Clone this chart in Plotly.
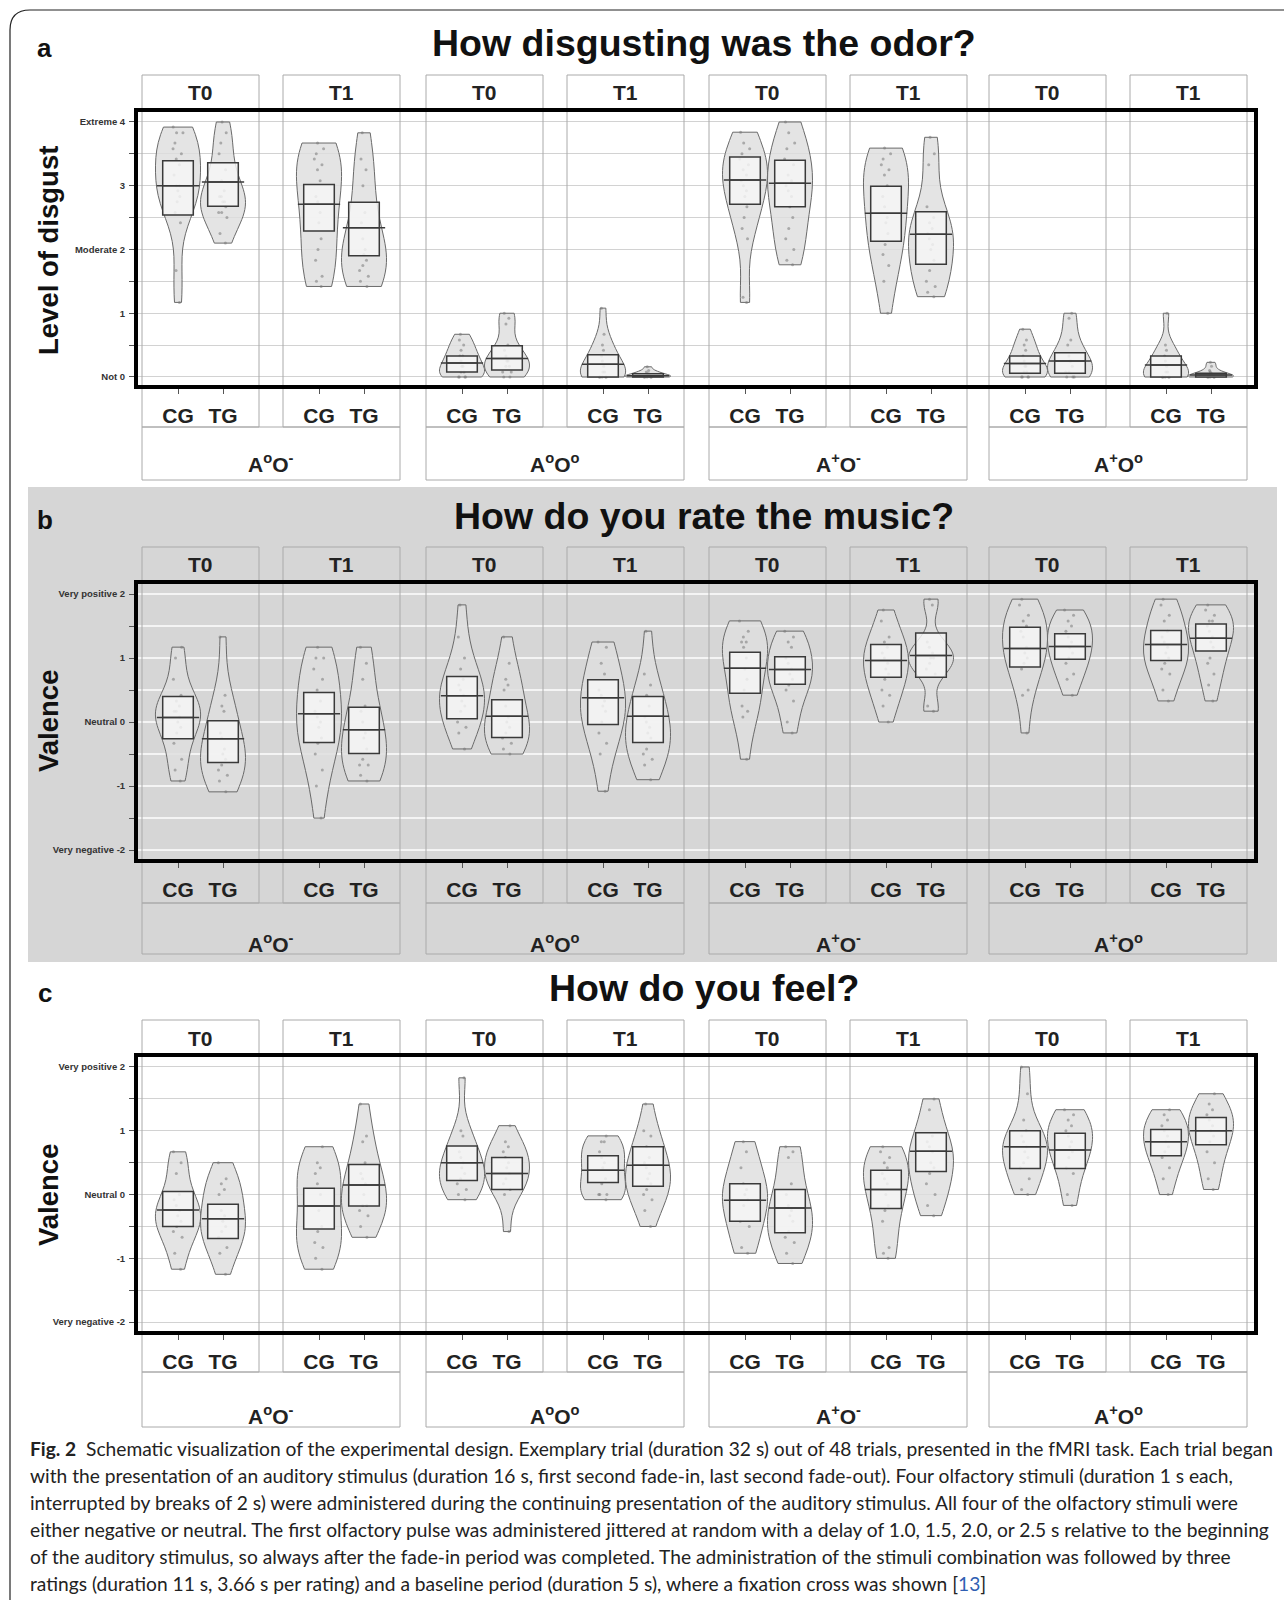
import plotly.graph_objects as go

# ---------------- data ----------------
conditions = ["A<sup>o</sup>O<sup>-</sup>", "A<sup>o</sup>O<sup>o</sup>",
              "A<sup>+</sup>O<sup>-</sup>", "A<sup>+</sup>O<sup>o</sup>"]
times = ["T0", "T1"]
groups = ["CG", "TG"]

titles = ["How disgusting was the odor?", "How do you rate the music?", "How do you feel?"]
panel_letters = ["a", "b", "c"]
y_titles = ["Level of disgust", "Valence", "Valence"]
disgust_tickvals = [0, 1, 2, 3, 4]
disgust_ticktext = ["Not 0", "1", "Moderate 2", "3", "Extreme 4"]
disgust_minor = [0.5, 1.5, 2.5, 3.5]
valence_tickvals = [-2, -1, 0, 1, 2]
valence_ticktext = ["Very negative -2", "-1", "Neutral 0", "1", "Very positive 2"]
valence_minor = [-1.5, -0.5, 0.5, 1.5]

# facet order: (A°O-,T0) (A°O-,T1) (A°O°,T0) (A°O°,T1) (A+O-,T0) (A+O-,T1) (A+O°,T0) (A+O°,T1)
# ---- panel a: disgust ----
a_pts_CG = [
    [3.92, 3.83, 3.83, 3.67, 3.58, 3.5, 3.42, 3.33, 3.17, 3.0, 3.0, 2.92, 2.83, 2.75, 2.58, 2.42, 1.67, 1.17],
    [3.67, 3.58, 3.5, 3.42, 3.33, 3.25, 3.08, 2.83, 2.75, 2.58, 2.42, 2.17, 2.0, 1.83, 1.58, 1.5, 1.42],
    [0.0, 0.0, 0.0, 0.0, 0.08, 0.08, 0.17, 0.17, 0.25, 0.33, 0.33, 0.42, 0.5, 0.58, 0.67],
    [0.0, 0.0, 0.0, 0.0, 0.0, 0.08, 0.08, 0.17, 0.25, 0.33, 0.42, 0.5, 0.67, 1.08],
    [3.84, 3.67, 3.58, 3.5, 3.42, 3.33, 3.25, 3.17, 3.08, 3.0, 2.92, 2.83, 2.67, 2.5, 2.33, 2.17, 1.25, 1.17],
    [3.59, 3.5, 3.42, 3.33, 3.25, 3.17, 3.0, 2.83, 2.67, 2.5, 2.42, 2.25, 2.08, 1.92, 1.75, 1.5, 1.0],
    [0.0, 0.0, 0.0, 0.0, 0.08, 0.08, 0.17, 0.17, 0.25, 0.33, 0.42, 0.5, 0.58, 0.75],
    [0.0, 0.0, 0.0, 0.0, 0.0, 0.08, 0.08, 0.17, 0.25, 0.33, 0.42, 0.5, 1.0],
]
a_pts_TG = [
    [4.0, 3.83, 3.67, 3.5, 3.25, 3.08, 2.92, 2.83, 2.83, 2.75, 2.75, 2.67, 2.58, 2.58, 2.5, 2.25, 2.1],
    [3.83, 3.42, 3.25, 3.0, 2.58, 2.42, 2.17, 2.0, 1.92, 1.83, 1.75, 1.67, 1.58, 1.5, 1.42],
    [0.0, 0.0, 0.08, 0.08, 0.17, 0.17, 0.25, 0.25, 0.33, 0.42, 0.5, 0.83, 0.92, 1.0],
    [0.0, 0.0, 0.0, 0.0, 0.0, 0.02, 0.03, 0.05, 0.05, 0.08, 0.1, 0.16],
    [4.0, 3.83, 3.67, 3.58, 3.42, 3.33, 3.17, 3.08, 3.0, 2.92, 2.83, 2.67, 2.5, 2.33, 2.17, 2.0, 1.83, 1.76],
    [3.76, 3.5, 3.33, 2.67, 2.5, 2.42, 2.33, 2.25, 2.17, 2.08, 2.0, 1.83, 1.67, 1.5, 1.42, 1.33, 1.26],
    [0.0, 0.0, 0.0, 0.08, 0.08, 0.17, 0.25, 0.25, 0.33, 0.5, 0.58, 0.92, 1.0],
    [0.0, 0.0, 0.0, 0.0, 0.0, 0.02, 0.03, 0.05, 0.08, 0.1, 0.17, 0.23],
]
a_q1_CG = [2.54, 2.29, 0.08, 0.0, 2.71, 2.13, 0.06, 0.0]
a_med_CG = [3.0, 2.71, 0.22, 0.2, 3.09, 2.57, 0.21, 0.19]
a_q3_CG = [3.39, 3.02, 0.33, 0.35, 3.45, 2.99, 0.33, 0.33]
a_q1_TG = [2.68, 1.9, 0.11, 0.0, 2.67, 1.77, 0.06, 0.0]
a_med_TG = [3.06, 2.34, 0.29, 0.02, 3.04, 2.24, 0.25, 0.03]
a_q3_TG = [3.36, 2.74, 0.49, 0.05, 3.4, 2.59, 0.38, 0.06]

# ---- panel b: music valence ----
b_pts_CG = [
    [1.17, 1.0, 0.67, 0.42, 0.33, 0.25, 0.17, 0.17, 0.08, 0.0, -0.08, -0.17, -0.33, -0.58, -0.75, -0.92],
    [1.17, 1.0, 1.0, 0.83, 0.67, 0.5, 0.33, 0.17, 0.08, 0.0, -0.08, -0.25, -0.33, -0.5, -0.75, -1.0, -1.5],
    [1.83, 1.33, 1.0, 0.83, 0.67, 0.58, 0.5, 0.42, 0.33, 0.25, 0.17, 0.0, -0.08, -0.17, -0.42],
    [1.25, 1.17, 0.92, 0.75, 0.5, 0.42, 0.33, 0.25, 0.17, 0.0, -0.17, -0.33, -0.5, -1.08],
    [1.58, 1.42, 1.33, 1.25, 1.25, 1.17, 1.0, 0.83, 0.67, 0.5, 0.25, 0.17, 0.08, -0.58],
    [1.75, 1.58, 1.33, 1.25, 1.17, 1.08, 1.0, 0.92, 0.83, 0.75, 0.67, 0.5, 0.42, 0.25, 0.0],
    [1.92, 1.83, 1.67, 1.58, 1.5, 1.42, 1.33, 1.17, 1.08, 1.0, 0.92, 0.83, 0.5, 0.42, -0.17],
    [1.92, 1.83, 1.67, 1.58, 1.42, 1.33, 1.25, 1.17, 1.08, 1.0, 0.92, 0.83, 0.75, 0.5, 0.33],
]
b_pts_TG = [
    [1.33, 0.42, 0.25, 0.17, -0.17, -0.25, -0.42, -0.5, -0.58, -0.67, -0.75, -0.83, -0.92, -1.09],
    [1.17, 0.92, 0.67, 0.25, 0.17, 0.0, -0.17, -0.25, -0.42, -0.58, -0.67, -0.67, -0.83, -0.92],
    [1.33, 0.92, 0.67, 0.58, 0.5, 0.25, 0.08, 0.0, -0.08, -0.17, -0.25, -0.33, -0.42, -0.5],
    [1.42, 0.75, 0.58, 0.42, 0.25, 0.08, 0.0, -0.08, -0.17, -0.25, -0.42, -0.5, -0.58, -0.67, -0.9],
    [1.42, 1.33, 1.25, 1.17, 1.0, 0.92, 0.83, 0.75, 0.67, 0.58, 0.5, 0.33, 0.0, -0.17],
    [1.92, 1.83, 1.25, 1.17, 1.08, 1.0, 1.0, 0.92, 0.83, 0.75, 0.25, 0.17],
    [1.75, 1.67, 1.58, 1.5, 1.42, 1.33, 1.25, 1.17, 1.08, 1.0, 0.92, 0.75, 0.67, 0.42],
    [1.83, 1.75, 1.67, 1.58, 1.58, 1.5, 1.42, 1.33, 1.25, 1.17, 1.0, 0.92, 0.75, 0.58, 0.33],
]
b_q1_CG = [-0.26, -0.32, 0.05, -0.04, 0.45, 0.7, 0.86, 0.96]
b_med_CG = [0.07, 0.13, 0.41, 0.38, 0.84, 0.96, 1.15, 1.21]
b_q3_CG = [0.4, 0.46, 0.71, 0.66, 1.09, 1.21, 1.48, 1.43]
b_q1_TG = [-0.63, -0.49, -0.24, -0.32, 0.59, 0.7, 0.98, 1.11]
b_med_TG = [-0.26, -0.12, 0.09, 0.09, 0.82, 1.04, 1.18, 1.31]
b_q3_TG = [0.02, 0.23, 0.35, 0.4, 1.02, 1.39, 1.38, 1.53]

# ---- panel c: feeling valence ----
c_pts_CG = [
    [0.67, 0.5, 0.33, 0.0, -0.08, -0.17, -0.25, -0.33, -0.42, -0.5, -0.58, -0.67, -0.92, -1.17],
    [0.75, 0.5, 0.42, 0.33, 0.17, 0.0, -0.25, -0.5, -0.58, -0.75, -0.83, -1.0, -1.17],
    [1.83, 1.0, 0.92, 0.67, 0.58, 0.5, 0.42, 0.33, 0.25, 0.17, 0.08, 0.0, -0.08],
    [0.92, 0.83, 0.83, 0.67, 0.58, 0.5, 0.42, 0.25, 0.17, 0.0, 0.0, 0.0, -0.08],
    [0.83, 0.67, 0.42, 0.17, 0.08, 0.0, -0.08, -0.17, -0.42, -0.5, -0.83, -0.92],
    [0.75, 0.67, 0.58, 0.5, 0.42, 0.33, 0.25, 0.17, 0.0, -0.17, -0.25, -0.42, -0.83, -0.92, -1.0],
    [2.0, 1.58, 1.17, 1.0, 0.92, 0.83, 0.75, 0.67, 0.58, 0.5, 0.42, 0.25, 0.08, 0.0],
    [1.33, 1.25, 1.17, 1.08, 1.0, 0.92, 0.83, 0.75, 0.67, 0.58, 0.42, 0.25, 0.0],
]
c_pts_TG = [
    [0.5, 0.25, 0.17, 0.08, 0.0, -0.25, -0.33, -0.42, -0.5, -0.58, -0.67, -0.83, -0.92, -1.25],
    [1.42, 0.92, 0.83, 0.5, 0.33, 0.25, 0.17, 0.0, -0.17, -0.17, -0.25, -0.33, -0.5, -0.67],
    [1.08, 0.83, 0.75, 0.67, 0.58, 0.5, 0.42, 0.33, 0.25, 0.17, 0.08, 0.0, -0.58],
    [1.42, 1.0, 0.92, 0.75, 0.58, 0.5, 0.42, 0.33, 0.25, 0.17, 0.08, 0.0, -0.08, -0.25, -0.5],
    [0.75, 0.67, 0.58, 0.17, 0.0, -0.17, -0.25, -0.33, -0.42, -0.58, -0.67, -0.75, -0.92, -1.08],
    [1.5, 1.33, 0.92, 0.83, 0.75, 0.67, 0.5, 0.42, 0.33, 0.17, 0.0, -0.17, -0.33],
    [1.33, 1.25, 1.17, 1.08, 1.0, 0.92, 0.83, 0.75, 0.67, 0.58, 0.42, 0.33, 0.0, -0.17],
    [1.58, 1.42, 1.33, 1.25, 1.17, 1.08, 1.0, 0.92, 0.83, 0.67, 0.5, 0.25, 0.08],
]
c_q1_CG = [-0.5, -0.54, 0.22, 0.19, -0.42, -0.22, 0.41, 0.61]
c_med_CG = [-0.24, -0.18, 0.5, 0.38, -0.09, 0.08, 0.75, 0.83]
c_q3_CG = [0.05, 0.1, 0.76, 0.61, 0.17, 0.38, 1.0, 1.02]
c_q1_TG = [-0.69, -0.18, 0.08, 0.13, -0.6, 0.36, 0.41, 0.78]
c_med_TG = [-0.38, 0.15, 0.33, 0.46, -0.21, 0.68, 0.7, 1.0]
c_q3_TG = [-0.15, 0.47, 0.58, 0.75, 0.08, 0.97, 0.96, 1.21]

caption_lines = [
    "<b>Fig. 2</b>\u00a0 Schematic visualization of the experimental design. Exemplary trial (duration 32 s) out of 48 trials, presented in the fMRI task. Each trial began",
    "with the presentation of an auditory stimulus (duration 16 s, first second fade-in, last second fade-out). Four olfactory stimuli (duration 1 s each,",
    "interrupted by breaks of 2 s) were administered during the continuing presentation of the auditory stimulus. All four of the olfactory stimuli were",
    "either negative or neutral. The first olfactory pulse was administered jittered at random with a delay of 1.0, 1.5, 2.0, or 2.5 s relative to the beginning",
    "of the auditory stimulus, so always after the fade-in period was completed. The administration of the stimuli combination was followed by three",
    "ratings (duration 11 s, 3.66 s per rating) and a baseline period (duration 5 s), where a fixation cross was shown [<span style='color:#2f5fb3'>13</span>]",
]

# ---------------- layout geometry (pixels) ----------------
W, H = 1284, 1600
def X(px): return px / W
def Y(py): return 1 - py / H

FONT = "Liberation Sans, Arial, sans-serif"
facet_left = [142, 283, 426, 567, 709, 850, 989, 1130]
facet_w = 117
frame_x0, frame_x1 = 136, 1256

panels = [
    dict(pts=(a_pts_CG, a_pts_TG), q1=(a_q1_CG, a_q1_TG), med=(a_med_CG, a_med_TG), q3=(a_q3_CG, a_q3_TG),
         title_y=43, letter_y=48, strip_top=75, strip_y=92, frame_top=110, frame_bot=387,
         facet_bot=427, cond_bot=480, cond_y=463, yr=[-0.157, 4.188], ytitle_y=250,
         tv=disgust_tickvals, tt=disgust_ticktext, mv=disgust_minor, grid="#d2d2d2", gw=1),
    dict(pts=(b_pts_CG, b_pts_TG), q1=(b_q1_CG, b_q1_TG), med=(b_med_CG, b_med_TG), q3=(b_q3_CG, b_q3_TG),
         title_y=516, letter_y=520, strip_top=547, strip_y=564, frame_top=582, frame_bot=861,
         facet_bot=903, cond_bot=954, cond_y=943, yr=[-2.17, 2.1875], ytitle_y=721,
         tv=valence_tickvals, tt=valence_ticktext, mv=valence_minor, grid="#f4f4f4", gw=1.5),
    dict(pts=(c_pts_CG, c_pts_TG), q1=(c_q1_CG, c_q1_TG), med=(c_med_CG, c_med_TG), q3=(c_q3_CG, c_q3_TG),
         title_y=988, letter_y=993, strip_top=1020, strip_y=1038, frame_top=1055, frame_bot=1333,
         facet_bot=1372, cond_bot=1427, cond_y=1415, yr=[-2.17, 2.188], ytitle_y=1195,
         tv=valence_tickvals, tt=valence_ticktext, mv=valence_minor, grid="#d2d2d2", gw=1),
]

fig = go.Figure()
layout = dict(width=W, height=H, margin=dict(l=0, r=0, t=0, b=0), autosize=False,
              paper_bgcolor="white", plot_bgcolor="rgba(0,0,0,0)", showlegend=False,
              violinmode="overlay", boxmode="overlay", font=dict(family=FONT, color="#222"))
shapes, annotations = [], []

VIOLIN_FILL = "rgba(222,222,222,0.82)"
BOX_FILL = "rgba(246,246,246,0.82)"

for p, P in enumerate(panels):
    yid = p + 1
    yname = "y" if yid == 1 else f"y{yid}"
    fx = p * 9 + 1
    fxname = "x" if fx == 1 else f"x{fx}"
    layout["yaxis" if yid == 1 else f"yaxis{yid}"] = dict(
        domain=[Y(P["frame_bot"]), Y(P["frame_top"])], range=P["yr"], anchor=fxname,
        tickmode="array", tickvals=P["tv"], ticktext=P["tt"], ticks="outside", ticklen=6,
        tickcolor="#555", tickwidth=1,
        tickfont=dict(family=FONT, size=9.5, color="#333", weight="bold"), ticklabelstandoff=2,
        showgrid=True, gridcolor=P["grid"], gridwidth=P["gw"],
        minor=dict(tickmode="array", tickvals=P["mv"], ticks="outside", ticklen=6, tickcolor="#555",
                   tickwidth=1, showgrid=True, gridcolor=P["grid"], gridwidth=P["gw"]),
        zeroline=False, showline=False, fixedrange=True)
    layout["xaxis" if fx == 1 else f"xaxis{fx}"] = dict(
        domain=[X(frame_x0), X(frame_x1)], range=[0, 1], anchor=yname, visible=False, fixedrange=True)
    fig.add_trace(go.Scatter(x=[None], y=[None], xaxis=fxname, yaxis=yname, hoverinfo="skip"))

    if p == 1:
        shapes.append(dict(type="rect", xref="paper", yref="paper", x0=X(28), x1=X(1277), y0=Y(962), y1=Y(487),
                           fillcolor="#d6d6d6", line=dict(width=0), layer="below"))
    annotations.append(dict(text=f"<b>{titles[p]}</b>", x=X(704), y=Y(P["title_y"]), xref="paper", yref="paper",
                            showarrow=False, xanchor="center", yanchor="middle",
                            font=dict(family=FONT, size=37.5, color="#111")))
    annotations.append(dict(text=f"<b>{panel_letters[p]}</b>", x=X(45), y=Y(P["letter_y"]), xref="paper", yref="paper",
                            showarrow=False, xanchor="center", yanchor="middle",
                            font=dict(family=FONT, size=26, color="#111")))
    annotations.append(dict(text=f"<b>{y_titles[p]}</b>", x=X(48), y=Y(P["ytitle_y"]), xref="paper", yref="paper",
                            showarrow=False, xanchor="center", yanchor="middle", textangle=-90,
                            font=dict(family=FONT, size=27.5, color="#111")))

    for f in range(8):
        xid = p * 9 + 2 + f
        xname = f"x{xid}"
        L = facet_left[f]
        layout[f"xaxis{xid}"] = dict(
            domain=[X(L), X(L + facet_w)], range=[0.2, 2.8], anchor=yname,
            tickmode="array", tickvals=[1, 2], ticktext=groups, ticks="outside", ticklen=6,
            tickcolor="#555", tickwidth=1,
            tickfont=dict(family=FONT, size=21, color="#222", weight="bold"), ticklabelstandoff=4,
            showgrid=False, zeroline=False, showline=False, fixedrange=True)
        for g in range(2):
            pos = g + 1
            vals = P["pts"][g][f]
            fig.add_trace(go.Violin(
                x=[pos] * len(vals), y=vals, xaxis=xname, yaxis=yname, width=1.0, scalemode="width",
                spanmode="hard", points="all", pointpos=0, jitter=0.25,
                marker=dict(size=3, color="rgba(120,120,120,0.55)"),
                line=dict(color="#6a6a6a", width=1), fillcolor=VIOLIN_FILL,
                box=dict(visible=False), meanline=dict(visible=False), hoverinfo="skip"))
            q1, md, q3 = P["q1"][g][f], P["med"][g][f], P["q3"][g][f]
            fig.add_trace(go.Box(
                x=[pos], q1=[q1], median=[md], q3=[q3], lowerfence=[q1], upperfence=[q3],
                xaxis=xname, yaxis=yname, width=0.68, boxpoints=False, whiskerwidth=0,
                fillcolor=BOX_FILL, line=dict(color="#3a3a3a", width=1.5), hoverinfo="skip"))
            fig.add_trace(go.Scatter(
                x=[pos - 0.47, pos + 0.47], y=[md, md], xaxis=xname, yaxis=yname, mode="lines",
                line=dict(color="#3a3a3a", width=1.5), hoverinfo="skip"))
        shapes.append(dict(type="rect", xref="paper", yref="paper", x0=X(L), x1=X(L + facet_w),
                           y0=Y(P["facet_bot"]), y1=Y(P["strip_top"]),
                           line=dict(color="#aaaaaa", width=1), layer="above"))
        annotations.append(dict(text=f"<b>{times[f % 2]}</b>", x=X(L + facet_w / 2), y=Y(P["strip_y"]),
                                xref="paper", yref="paper", showarrow=False, xanchor="center", yanchor="middle",
                                font=dict(family=FONT, size=21, color="#222")))
    for c in range(4):
        L0 = facet_left[2 * c]
        L1 = facet_left[2 * c + 1] + facet_w
        shapes.append(dict(type="rect", xref="paper", yref="paper", x0=X(L0), x1=X(L1),
                           y0=Y(P["cond_bot"]), y1=Y(P["facet_bot"]),
                           line=dict(color="#aaaaaa", width=1), layer="above"))
        annotations.append(dict(text=f"<b>{conditions[c]}</b>", x=X((L0 + L1) / 2), y=Y(P["cond_y"]),
                                xref="paper", yref="paper", showarrow=False, xanchor="center", yanchor="middle",
                                font=dict(family=FONT, size=21, color="#222")))
    shapes.append(dict(type="rect", xref="paper", yref="paper", x0=X(frame_x0), x1=X(frame_x1),
                       y0=Y(P["frame_bot"]), y1=Y(P["frame_top"]),
                       line=dict(color="black", width=4), layer="above"))

# outer rounded border
shapes.append(dict(type="path", xref="paper", yref="paper",
                   path=f"M {X(10)},{Y(1600)} L {X(10)},{Y(30)} Q {X(10)},{Y(10)} {X(30)},{Y(10)} L {X(1284)},{Y(10)}",
                   line=dict(color="#222", width=1.2)))

# caption
cap_y = [1448, 1475, 1502, 1529, 1556, 1583]
for i, line in enumerate(caption_lines):
    annotations.append(dict(text=line, x=X(28), y=Y(cap_y[i]), xref="paper", yref="paper",
                            showarrow=False, xanchor="left", yanchor="middle",
                            font=dict(family="Lato, Noto Sans, sans-serif", size=19.2, color="#222")))

layout["shapes"] = shapes
layout["annotations"] = annotations
fig.update_layout(**layout)
fig.write_html("out.html", config={"displayModeBar": False, "staticPlot": True},
               post_script="document.body.style.margin='0';document.body.style.overflow='hidden';")
